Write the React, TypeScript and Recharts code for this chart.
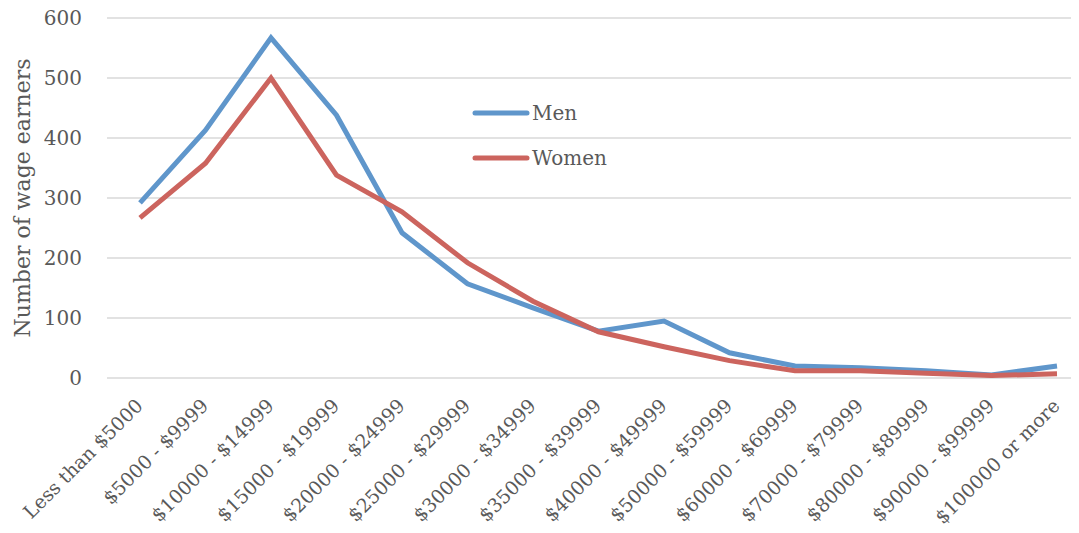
import { CartesianGrid, Legend, Line, LineChart, XAxis, YAxis } from "recharts";

const categories = [
  "Less than $5000",
  "$5000 - $9999",
  "$10000 - $14999",
  "$15000 - $19999",
  "$20000 - $24999",
  "$25000 - $29999",
  "$30000 - $34999",
  "$35000 - $39999",
  "$40000 - $49999",
  "$50000 - $59999",
  "$60000 - $69999",
  "$70000 - $79999",
  "$80000 - $89999",
  "$90000 - $99999",
  "$100000 or more",
];
const menValues = [292, 413, 567, 438, 242, 157, 117, 78, 95, 42, 20, 17, 12, 5, 20];
const womenValues = [267, 358, 500, 338, 277, 192, 128, 77, 52, 29, 12, 12, 8, 4, 7];
const yTicks = [0, 100, 200, 300, 400, 500, 600];

const data = categories.map((category, i) => ({ category, men: menValues[i], women: womenValues[i] }));

const FONT = "'DejaVu Serif', serif";
const TEXT = "#595959";
const MEN = "#5F96CB";
const WOMEN = "#CC645E";

function XTick({ x, y, payload }: any) {
  return (
    <g transform={`translate(${x + 4},${y + 21})`}>
      <text textAnchor="end" transform="rotate(-45)" fontFamily={FONT} fontSize={19} fill={TEXT}>
        {payload.value}
      </text>
    </g>
  );
}

function YLabel({ viewBox }: any) {
  const cx = viewBox.x + 22;
  const cy = viewBox.y + viewBox.height / 2;
  return (
    <text
      x={cx}
      y={cy}
      transform={`rotate(-90, ${cx}, ${cy})`}
      textAnchor="middle"
      dominantBaseline="central"
      fontFamily={FONT}
      fontSize={22}
      fill={TEXT}
    >
      Number of wage earners
    </text>
  );
}

function renderLegend(props: any) {
  return (
    <div>
      {props.payload.map((item: any) => (
        <div key={item.value} style={{ display: "flex", alignItems: "center", height: 45 }}>
          <svg width={58} height={10}>
            <line x1={3} y1={5} x2={55} y2={5} stroke={item.color} strokeWidth={5} strokeLinecap="round" />
          </svg>
          <span style={{ fontFamily: FONT, fontSize: 20, color: TEXT, marginLeft: 2 }}>{item.value}</span>
        </div>
      ))}
    </div>
  );
}

export default function App() {
  return (
    <div style={{ margin: -8, width: 1079, height: 533, overflow: "hidden", background: "#fff" }}>
      <LineChart width={1100} height={533} data={data} margin={{ top: 18, right: 10, left: 0, bottom: 0 }}>
        <CartesianGrid vertical={false} stroke="#D9D9D9" strokeWidth={1.5} />
        <XAxis
          dataKey="category"
          interval={0}
          height={155}
          padding={{ left: 33, right: 33 }}
          axisLine={false}
          tickLine={false}
          tick={<XTick />}
        />
        <YAxis
          domain={[0, 600]}
          ticks={yTicks}
          width={107}
          axisLine={false}
          tickLine={false}
          tickSize={0}
          tickMargin={25}
          tick={{ fontFamily: FONT, fontSize: 20, fill: TEXT }}
          label={<YLabel />}
        />
        <Legend
          layout="vertical"
          verticalAlign="middle"
          align="center"
          content={renderLegend}
          wrapperStyle={{ left: 472, top: 90, width: 180 }}
        />
        <Line name="Men" dataKey="men" stroke={MEN} strokeWidth={5} dot={false} isAnimationActive={false} />
        <Line name="Women" dataKey="women" stroke={WOMEN} strokeWidth={5} dot={false} isAnimationActive={false} />
      </LineChart>
    </div>
  );
}
